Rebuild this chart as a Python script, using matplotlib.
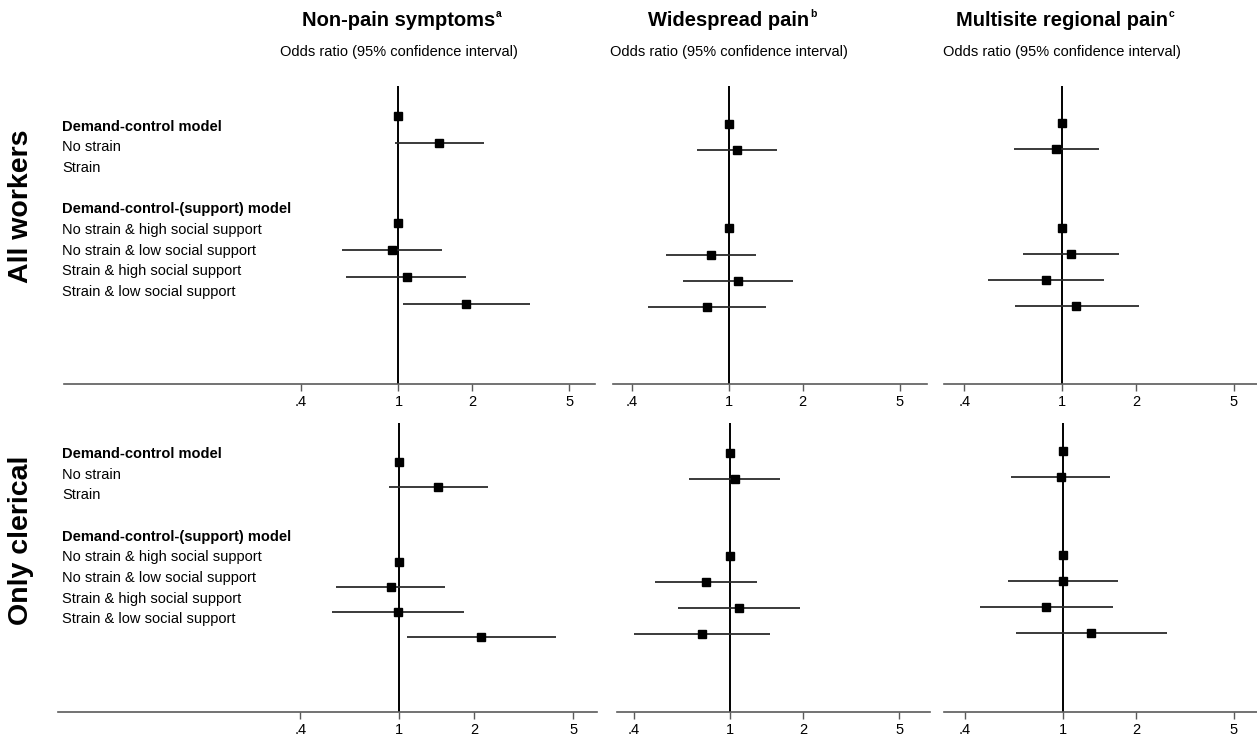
import matplotlib
matplotlib.use("Agg")
import matplotlib.pyplot as plt
from matplotlib.transforms import blended_transform_factory

plt.rcParams['font.family'] = ['Liberation Sans', 'DejaVu Sans']

# ---------------- data ----------------
outcomes = ["Non-pain symptoms", "Widespread pain", "Multisite regional pain"]
outcome_sup = ["a", "b", "c"]
subtitle = "Odds ratio (95% confidence interval)"
groups = ["All workers", "Only clerical"]
row_labels = ["Demand-control model", "No strain", "Strain",
              "Demand-control-(support) model", "No strain & high social support",
              "No strain & low social support", "Strain & high social support",
              "Strain & low social support"]
header_labels = ["Demand-control model", "Demand-control-(support) model"]
tick_values = [0.4, 1, 2, 5]
tick_labels = [".4", "1", "2", "5"]
rows = [0, 1, 4, 5, 6, 7]   # estimate rows (two model blocks)

# All workers
all_nonpain_or = [1, 1.47, 1, 0.937, 1.08, 1.89]
all_nonpain_lo = [1, 0.968, 1, 0.587, 0.611, 1.04]
all_nonpain_hi = [1, 2.23, 1, 1.50, 1.89, 3.45]

all_wide_or = [1, 1.075, 1, 0.847, 1.085, 0.813]
all_wide_lo = [1, 0.737, 1, 0.554, 0.650, 0.468]
all_wide_hi = [1, 1.577, 1, 1.294, 1.822, 1.417]

all_multi_or = [1, 0.945, 1, 1.088, 0.858, 1.144]
all_multi_lo = [1, 0.636, 1, 0.694, 0.498, 0.642]
all_multi_hi = [1, 1.419, 1, 1.706, 1.482, 2.058]

# Only clerical
cler_nonpain_or = [1, 1.435, 1, 0.923, 0.99, 2.125]
cler_nonpain_lo = [1, 0.906, 1, 0.556, 0.535, 1.069]
cler_nonpain_hi = [1, 2.265, 1, 1.529, 1.823, 4.25]

cler_wide_or = [1, 1.045, 1, 0.796, 1.089, 0.766]
cler_wide_lo = [1, 0.677, 1, 0.490, 0.610, 0.402]
cler_wide_hi = [1, 1.613, 1, 1.288, 1.950, 1.467]

cler_multi_or = [1, 0.984, 1, 1.003, 0.858, 1.309]
cler_multi_lo = [1, 0.615, 1, 0.600, 0.458, 0.643]
cler_multi_hi = [1, 1.565, 1, 1.682, 1.600, 2.675]

series = [
    [(all_nonpain_or, all_nonpain_lo, all_nonpain_hi),
     (all_wide_or, all_wide_lo, all_wide_hi),
     (all_multi_or, all_multi_lo, all_multi_hi)],
    [(cler_nonpain_or, cler_nonpain_lo, cler_nonpain_hi),
     (cler_wide_or, cler_wide_lo, cler_wide_hi),
     (cler_multi_or, cler_multi_lo, cler_multi_hi)],
]

# ---------------- layout (pixels) ----------------
W, H = 1257, 736
fig = plt.figure(figsize=(W / 100, H / 100), dpi=100)

row_tb = [(86, 384), (422.7, 711.7)]
panel_lr = [[(64.3, 595), (612.7, 927), (944, 1257)],
            [(58.3, 597), (616.7, 930), (944, 1257)]]
panel_xlim = [[(0.043, 6.365), (0.334, 6.46), (0.331, 6.22)],
              [(0.0425, 6.24), (0.3406, 6.69), (0.328, 6.21)]]
panel_ylim = [[(10.0, -1.12), (9.95, -1.45), (9.96, -1.40)],
              [(10.0, -1.56), (10.0, -1.16), (10.02, -1.08)]]
label_x_px = 62
label_y0_px = [126.7, 454.0]
label_step_px = 20.67
label_slots = [0, 1, 2, 4, 5, 6, 7, 8]
group_y_px = [206, 540]

spine_col = "#5a5a5a"
ci_col = "#2b2b2b"

top_axes = []
for g in range(2):
    t, b = row_tb[g]
    for k in range(3):
        l, r = panel_lr[g][k]
        ax = fig.add_axes([l / W, 1 - b / H, (r - l) / W, (b - t) / H])
        ax.set_xscale("log")
        ax.set_xlim(*panel_xlim[g][k])
        ax.set_ylim(*panel_ylim[g][k])
        for s in ["top", "right", "left"]:
            ax.spines[s].set_visible(False)
        ax.spines["bottom"].set_color(spine_col)
        ax.spines["bottom"].set_linewidth(1.2)
        ax.set_yticks([])
        ax.set_xticks(tick_values)
        ax.set_xticklabels(tick_labels)
        ax.xaxis.set_minor_locator(matplotlib.ticker.NullLocator())
        ax.tick_params(axis="x", length=5, width=1.0, color=spine_col,
                       labelsize=10.5, pad=3, labelcolor="black")
        ax.patch.set_alpha(0)
        ax.axvline(1, color="black", lw=1.4, zorder=2)
        ors, los, his = series[g][k]
        ci_rows = [rows[i] for i in range(len(rows)) if his[i] > los[i]]
        ci_lo = [los[i] for i in range(len(rows)) if his[i] > los[i]]
        ci_hi = [his[i] for i in range(len(rows)) if his[i] > los[i]]
        ax.hlines(ci_rows, ci_lo, ci_hi, color=ci_col, lw=1.3, zorder=3)
        ax.plot(ors, rows, "s", color="black", ms=6, zorder=4, clip_on=False)
        if g == 0:
            top_axes.append(ax)

    # row labels
    for lab, slot in zip(row_labels, label_slots):
        y = 1 - (label_y0_px[g] + slot * label_step_px) / H
        fig.text(label_x_px / W, y, lab, fontsize=10.5, va="center", ha="left",
                 fontweight="bold" if lab in header_labels else "normal")
    fig.text(21 / W, 1 - group_y_px[g] / H, groups[g], rotation=90,
             fontsize=20.5, fontweight="bold", ha="center", va="center")

# column titles
for k, ax in enumerate(top_axes):
    tr = blended_transform_factory(ax.transData, fig.transFigure)
    tt = fig.text(1, 1 - 20 / H, outcomes[k], transform=tr, fontsize=14.5,
                  fontweight="bold", ha="center", va="center")
    fig.text(1, 1 - 52 / H, subtitle, transform=tr, fontsize=10.5,
             ha="center", va="center")
    ax.annotate(outcome_sup[k], xy=(1.0, 0.55), xycoords=tt, fontsize=7.5,
                fontweight="bold", ha="left", va="bottom",
                xytext=(0.5, 0), textcoords="offset points")

fig.savefig("out.png", dpi=100)
